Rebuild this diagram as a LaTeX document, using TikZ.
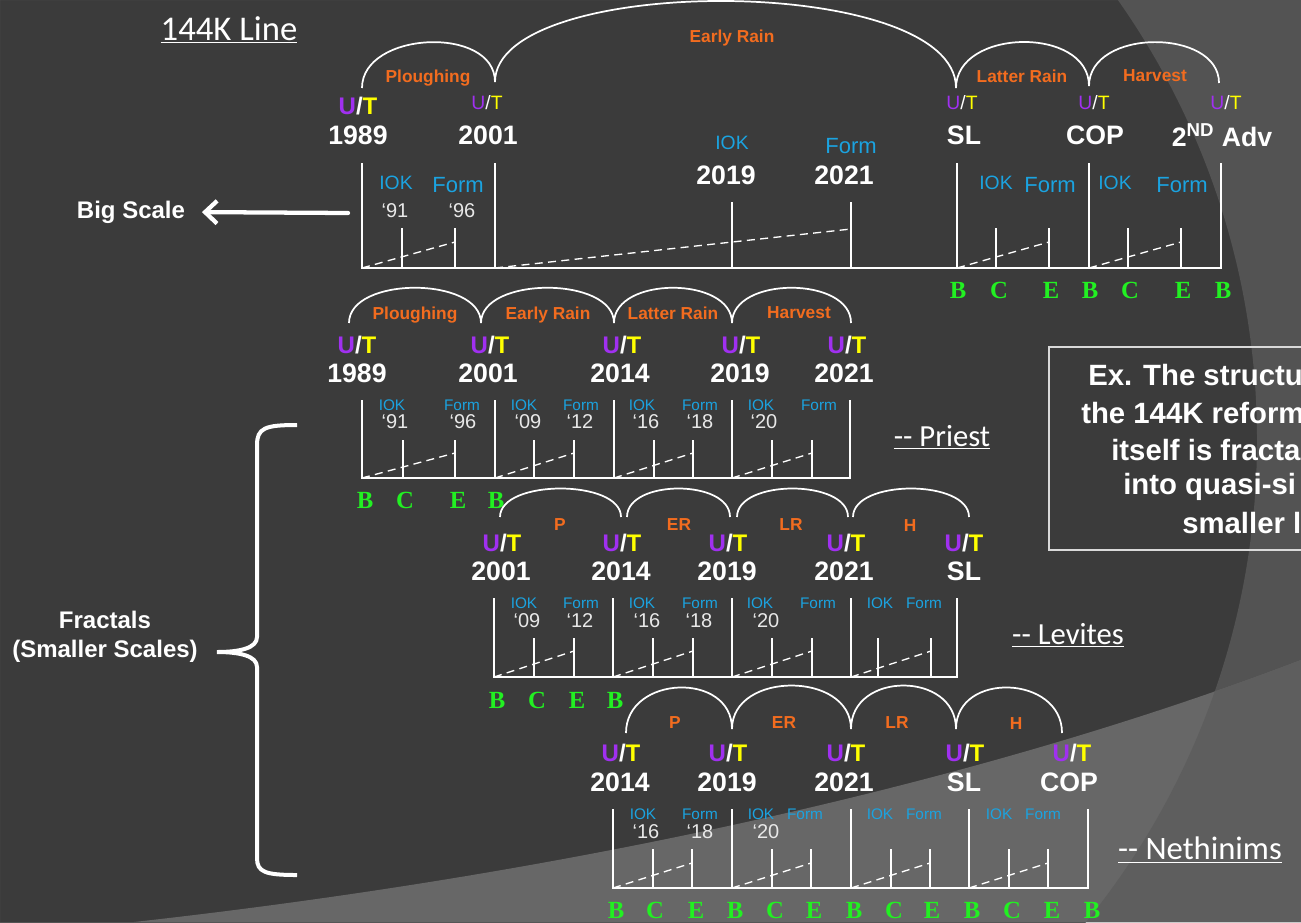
\documentclass[tikz,border=0pt]{standalone}
\usepackage{fontspec}
\setmainfont{Liberation Sans}
\newfontfamily\handfont{Carlito}
\newfontfamily\serfont{Liberation Serif}
\usetikzlibrary{arrows.meta}
\definecolor{sBack}{HTML}{3B3B3B}
\definecolor{sBand}{HTML}{535353}
\definecolor{sLight}{HTML}{676767}
\definecolor{sMix}{HTML}{5E5E5E}
\definecolor{sOrange}{HTML}{F26C1F}
\definecolor{sPurple}{HTML}{A030F0}
\definecolor{sYellow}{HTML}{FFFF00}
\definecolor{sBlue}{HTML}{1BA3E0}
\definecolor{sGreen}{HTML}{22F022}
\definecolor{sGrey}{HTML}{E8E8E8}
\newcommand{\UT}{\textcolor{sPurple}{U}/\textcolor{sYellow}{T}}

\begin{document}
\begin{tikzpicture}[x=0.75pt,y=-0.75pt]
		\tikzstyle{TXT} = [inner sep=0pt, text=white]
		\tikzstyle{year} = [TXT, font=\fontsize{20}{24}\selectfont\bfseries]
		\tikzstyle{ut} = [TXT, font=\fontsize{18}{22}\selectfont\bfseries]
		\tikzstyle{uts} = [TXT, font=\fontsize{14.5}{17}\selectfont]
		\tikzstyle{phase} = [TXT, text depth=0pt, text=sOrange, font=\fontsize{13}{16}\selectfont\bfseries]
		\tikzstyle{iok} = [TXT, text=sBlue, font=\fontsize{11.5}{14}\selectfont]
		\tikzstyle{iokb} = [TXT, text=sBlue, font=\fontsize{14.5}{17}\selectfont]
		\tikzstyle{formb} = [TXT, text=sBlue, font=\fontsize{16.5}{19}\selectfont]
		\tikzstyle{qt} = [TXT, text=sGrey, font=\fontsize{15}{18}\selectfont]
		\tikzstyle{bce} = [TXT, text=sGreen, font=\serfont\fontsize{18.5}{21}\selectfont\bfseries]
		\tikzstyle{hand} = [TXT, font=\handfont\fontsize{23}{27}\selectfont]
		\tikzstyle{lbl} = [TXT, font=\fontsize{18}{22}\selectfont\bfseries]
		\tikzstyle{boxtxt} = [TXT, anchor=west, font=\fontsize{22}{26}\selectfont\bfseries]
		\tikzstyle{TL} = [white, line width=1.3pt]
		\tikzstyle{tick} = [white, line width=1pt]
		\tikzstyle{dsh} = [white, line width=1pt, dash pattern=on 6pt off 4pt]
		\tikzstyle{ARC} = [white, line width=1.3pt]

		\useasboundingbox (0,0) rectangle (1301,922);
		% backdrop
		\fill[sBack] (0,0) rectangle (1301,922);
		\fill[sBand, even odd rule] (0,0) rectangle (1301,922) (492,440) circle[radius=573.75pt];
		\fill[sLight] (134,922) .. controls (600,870) and (1000,775) .. (1301,660) -- (1301,922) -- cycle;
		\begin{scope}
			\clip (134,922) .. controls (600,870) and (1000,775) .. (1301,660) -- (1301,922) -- cycle;
			\fill[sMix, even odd rule] (0,0) rectangle (1301,922) (492,440) circle[radius=573.75pt];
		\end{scope}

		\node[hand, font=\handfont\fontsize{26}{30}\selectfont] (title) at (229,30) {\underline{144K Line}};

		% big scale line
		\draw[ARC] (362,88) .. controls +(0,-57) and +(0,-57) .. (495,82)
			.. controls +(0,-109) and +(0,-115) .. (956,88)
			.. controls +(0,-60) and +(0,-60) .. (1089,86)
			.. controls +(0,-58) and +(0,-55) .. (1219,83);
		\node[phase] (r1p1) at (428,76) {Ploughing};
		\node[phase] (r1p2) at (732,36) {Early Rain};
		\node[phase] (r1p3) at (1022,76) {Latter Rain};
		\node[phase] (r1p4) at (1155,76) {Harvest};
		\node[ut] (r1u1) at (358,106) {\UT};
		\node[uts] (r1u2) at (487,103) {\UT};
		\node[uts] (r1u3) at (962,103) {\UT};
		\node[uts] (r1u4) at (1094,103) {\UT};
		\node[uts] (r1u5) at (1226,103) {\UT};
		\node[year] (r1y1) at (358,135) {1989};
		\node[year] (r1y2) at (488,135) {2001};
		\node[year] (r1y3) at (964,135) {SL};
		\node[year] (r1y4) at (1095,135) {COP};
		\node[year] (r1y5) at (1222,135) {2\textsuperscript{ND} Adv};
		\node[year] (r1y6) at (726,175) {2019};
		\node[year] (r1y7) at (844,175) {2021};
		\node[iokb] (r1i1) at (396,183) {IOK};
		\node[formb] (r1f1) at (458,185) {Form};
		\node[qt] (r1q1) at (395,211) {‘91};
		\node[qt] (r1q2) at (462,211) {‘96};
		\node[iokb] (r1i2) at (732,143) {IOK};
		\node[formb] (r1f2) at (851,146) {Form};
		\node[iokb] (r1i3) at (996,183) {IOK};
		\node[formb] (r1f3) at (1050,185) {Form};
		\node[iokb] (r1i4) at (1115,183) {IOK};
		\node[formb] (r1f4) at (1182,185) {Form};
		\draw[TL] (362,163) -- (362,268) -- (1221,268) -- (1221,163);
		\draw[TL] (495,163) -- (495,268) (957,163) -- (957,268) (1089,163) -- (1089,268)
			(732,202) -- (732,268) (851,202) -- (851,268);
		\draw[tick] (402,228) -- (402,268) (455,228) -- (455,268) (996,228) -- (996,268)
			(1049,228) -- (1049,268) (1128,228) -- (1128,268) (1181,228) -- (1181,268);
		\draw[dsh] (362,268) -- (455,242) (495,268) -- (851,229) (957,268) -- (1049,242) (1089,268) -- (1181,242);
		\node[bce] (r1b1) at (958,290) {B};
		\node[bce] (r1c1) at (999,290) {C};
		\node[bce] (r1e1) at (1051,290) {E};
		\node[bce] (r1b2) at (1090,290) {B};
		\node[bce] (r1c2) at (1130,290) {C};
		\node[bce] (r1e2) at (1183,290) {E};
		\node[bce] (r1b3) at (1223,290) {B};

		\node[lbl] (bigScale) at (131,212) {Big Scale};
		\coordinate (bsTail) at (348,213);
		\draw[white, line width=3.2pt, line cap=round, shorten >=12.5pt,
			-{Straight Barb[length=9pt,width=17pt,line width=3.2pt]}] (bsTail) -- (bigScale.east);

		% priest line
		\draw[ARC] (349,323) .. controls +(0,-47) and +(0,-47) .. (481,323)
			.. controls +(0,-47) and +(0,-47) .. (614,323)
			.. controls +(0,-47) and +(0,-47) .. (732,323)
			.. controls +(0,-47) and +(0,-47) .. (851,323);
		\node[phase] (r2p1) at (415,313) {Ploughing};
		\node[phase] (r2p2) at (548,313) {Early Rain};
		\node[phase] (r2p3) at (673,313) {Latter Rain};
		\node[phase] (r2p4) at (799,313) {Harvest};
		\node[ut] (r2u1) at (357,345) {\UT};
		\node[ut] (r2u2) at (490,345) {\UT};
		\node[ut] (r2u3) at (622,345) {\UT};
		\node[ut] (r2u4) at (741,345) {\UT};
		\node[ut] (r2u5) at (847,345) {\UT};
		\node[year] (r2y1) at (357,373) {1989};
		\node[year] (r2y2) at (488,373) {2001};
		\node[year] (r2y3) at (620,373) {2014};
		\node[year] (r2y4) at (740,373) {2019};
		\node[year] (r2y5) at (844,373) {2021};
		\node[iok] (r2i1) at (392,405) {IOK};
		\node[iok] (r2f1) at (462,405) {Form};
		\node[qt] (r2q1) at (395,422) {‘91};
		\node[qt] (r2q2) at (463,422) {‘96};
		\node[iok] (r2i2) at (524,405) {IOK};
		\node[iok] (r2f2) at (581,405) {Form};
		\node[qt] (r2q3) at (528,422) {‘09};
		\node[qt] (r2q4) at (580,422) {‘12};
		\node[iok] (r2i3) at (642,405) {IOK};
		\node[iok] (r2f3) at (700,405) {Form};
		\node[qt] (r2q5) at (646,422) {‘16};
		\node[qt] (r2q6) at (700,422) {‘18};
		\node[iok] (r2i4) at (761,405) {IOK};
		\node[iok] (r2f4) at (819,405) {Form};
		\node[qt] (r2q7) at (764,422) {‘20};
		\draw[TL] (362,400) -- (362,478) -- (850,478) -- (850,400);
		\draw[TL] (495,400) -- (495,478) (614,400) -- (614,478) (732,400) -- (732,478);
		\draw[tick] (403,440) -- (403,478) (455,440) -- (455,478) (534,440) -- (534,478) (574,440) -- (574,478)
			(654,440) -- (654,478) (693,440) -- (693,478) (772,440) -- (772,478) (812,440) -- (812,478);
		\draw[dsh] (362,478) -- (455,453) (495,478) -- (574,453) (614,478) -- (693,453) (732,478) -- (812,453);
		\node[bce] (r2b1) at (365,500) {B};
		\node[bce] (r2c1) at (405,500) {C};
		\node[bce] (r2e1) at (458,500) {E};
		\node[bce] (r2b2) at (496,500) {B};
		\node[hand] (priest) at (942,437) {\underline{-- Priest}};

		% levites line
		\draw[ARC] (500,517) .. controls +(0,-38) and +(0,-38) .. (621,517)
			(627,517) .. controls +(0,-38) and +(0,-38) .. (730,517)
			(737,517) .. controls +(0,-38) and +(0,-38) .. (848,517)
			(853,517) .. controls +(0,-38) and +(0,-38) .. (969,517);
		\node[phase] (r3p1) at (560,525) {P};
		\node[phase] (r3p2) at (679,525) {ER};
		\node[phase] (r3p3) at (791,525) {LR};
		\node[phase] (r3p4) at (910,526) {H};
		\node[ut] (r3u1) at (502,543) {\UT};
		\node[ut] (r3u2) at (622,543) {\UT};
		\node[ut] (r3u3) at (728,543) {\UT};
		\node[ut] (r3u4) at (846,543) {\UT};
		\node[ut] (r3u5) at (964,543) {\UT};
		\node[year] (r3y1) at (501,571) {2001};
		\node[year] (r3y2) at (621,571) {2014};
		\node[year] (r3y3) at (727,571) {2019};
		\node[year] (r3y4) at (844,571) {2021};
		\node[year] (r3y5) at (964,571) {SL};
		\node[iok] (r3i1) at (524,603) {IOK};
		\node[iok] (r3f1) at (581,603) {Form};
		\node[qt] (r3q1) at (527,621) {‘09};
		\node[qt] (r3q2) at (580,621) {‘12};
		\node[iok] (r3i2) at (642,603) {IOK};
		\node[iok] (r3f2) at (700,603) {Form};
		\node[qt] (r3q3) at (647,621) {‘16};
		\node[qt] (r3q4) at (699,621) {‘18};
		\node[iok] (r3i3) at (760,603) {IOK};
		\node[iok] (r3f3) at (818,603) {Form};
		\node[qt] (r3q5) at (766,621) {‘20};
		\node[iok] (r3i4) at (880,603) {IOK};
		\node[iok] (r3f4) at (924,603) {Form};
		\draw[TL] (494,598) -- (494,677) -- (957,677) -- (957,598);
		\draw[TL] (613,598) -- (613,677) (732,598) -- (732,677) (851,598) -- (851,677);
		\draw[tick] (534,638) -- (534,677) (574,638) -- (574,677) (653,638) -- (653,677) (693,638) -- (693,677)
			(772,638) -- (772,677) (812,638) -- (812,677) (878,638) -- (878,677) (931,638) -- (931,677);
		\draw[dsh] (494,677) -- (574,651) (613,677) -- (693,651) (732,677) -- (812,651) (851,677) -- (931,651);
		\node[bce] (r3b1) at (497,700) {B};
		\node[bce] (r3c1) at (537,700) {C};
		\node[bce] (r3e1) at (577,700) {E};
		\node[bce] (r3b2) at (615,700) {B};
		\node[hand] (levites) at (1068,635) {\underline{-- Levites}};

		% nethinims line
		\draw[ARC] (626,733) .. controls +(0,-58) and +(0,-58) .. (732,729)
			.. controls +(0,-58) and +(0,-58) .. (851,729)
			.. controls +(0,-58) and +(0,-58) .. (956,729)
			.. controls +(0,-58) and +(0,-58) .. (1062,733);
		\node[phase] (r4p1) at (675,723) {P};
		\node[phase] (r4p2) at (784,723) {ER};
		\node[phase] (r4p3) at (897,723) {LR};
		\node[phase] (r4p4) at (1016,724) {H};
		\node[ut] (r4u1) at (621,753) {\UT};
		\node[ut] (r4u2) at (728,753) {\UT};
		\node[ut] (r4u3) at (846,753) {\UT};
		\node[ut] (r4u4) at (965,753) {\UT};
		\node[ut] (r4u5) at (1072,753) {\UT};
		\node[year] (r4y1) at (620,782) {2014};
		\node[year] (r4y2) at (727,782) {2019};
		\node[year] (r4y3) at (844,782) {2021};
		\node[year] (r4y4) at (964,782) {SL};
		\node[year] (r4y5) at (1069,782) {COP};
		\node[iok] (r4i1) at (643,814) {IOK};
		\node[iok] (r4f1) at (700,814) {Form};
		\node[qt] (r4q1) at (646,832) {‘16};
		\node[qt] (r4q2) at (700,832) {‘18};
		\node[iok] (r4i2) at (761,814) {IOK};
		\node[iok] (r4f2) at (805,814) {Form};
		\node[qt] (r4q3) at (766,832) {‘20};
		\node[iok] (r4i3) at (880,814) {IOK};
		\node[iok] (r4f3) at (924,814) {Form};
		\node[iok] (r4i4) at (999,814) {IOK};
		\node[iok] (r4f4) at (1043,814) {Form};
		\draw[TL] (613,809) -- (613,888) -- (1088,888) -- (1088,809);
		\draw[TL] (732,809) -- (732,888) (851,809) -- (851,888) (969,809) -- (969,888);
		\draw[tick] (653,849) -- (653,888) (692,849) -- (692,888) (772,849) -- (772,888) (811,849) -- (811,888)
			(891,849) -- (891,888) (930,849) -- (930,888) (1009,849) -- (1009,888) (1048,849) -- (1048,888);
		\draw[dsh] (613,888) -- (692,863) (732,888) -- (811,863) (851,888) -- (930,863) (969,888) -- (1048,863);
		\node[bce] (r4b1) at (616,910) {B};
		\node[bce] (r4c1) at (655,910) {C};
		\node[bce] (r4e1) at (696,910) {E};
		\node[bce] (r4b2) at (735,910) {B};
		\node[bce] (r4c2) at (775,910) {C};
		\node[bce] (r4e2) at (814,910) {E};
		\node[bce] (r4b3) at (854,910) {B};
		\node[bce] (r4c3) at (894,910) {C};
		\node[bce] (r4e3) at (932,910) {E};
		\node[bce] (r4b4) at (972,910) {B};
		\node[bce] (r4c4) at (1012,910) {C};
		\node[bce] (r4e4) at (1052,910) {E};
		\node[bce] (r4b5) at (1092,910) {B};
		\node[hand, font=\handfont\fontsize{24.5}{28}\selectfont] (nethinims) at (1200,850) {\underline{-- Nethinims}};

		% brace for the smaller scales
		\draw[white, line width=3pt] (297,425) .. controls (265,425) and (257,428) .. (257,445) -- (257,637)
			.. controls (257,648) and (240,652) .. (217,652) .. controls (240,652) and (257,656) .. (257,667)
			-- (257,858) .. controls (257,872) and (265,875) .. (297,875);
		\node[lbl, align=center, font=\fontsize{18}{21.75}\selectfont\bfseries] (fractals) at (105,637) {Fractals\\(Smaller Scales)};

		% note box
		\draw[white!85!black, line width=1pt] (1049,347) rectangle (1320,550);
		\node[boxtxt] (tx1) at (1088,375) {Ex. The structu};
		\node[boxtxt] (tx2) at (1081,413) {the 144K reform};
		\node[boxtxt] (tx3) at (1111,450) {itself is fracta};
		\node[boxtxt] (tx4) at (1123,487) {into quasi-si};
		\node[boxtxt] (tx5) at (1182,523) {smaller l};
\end{tikzpicture}
\end{document}
